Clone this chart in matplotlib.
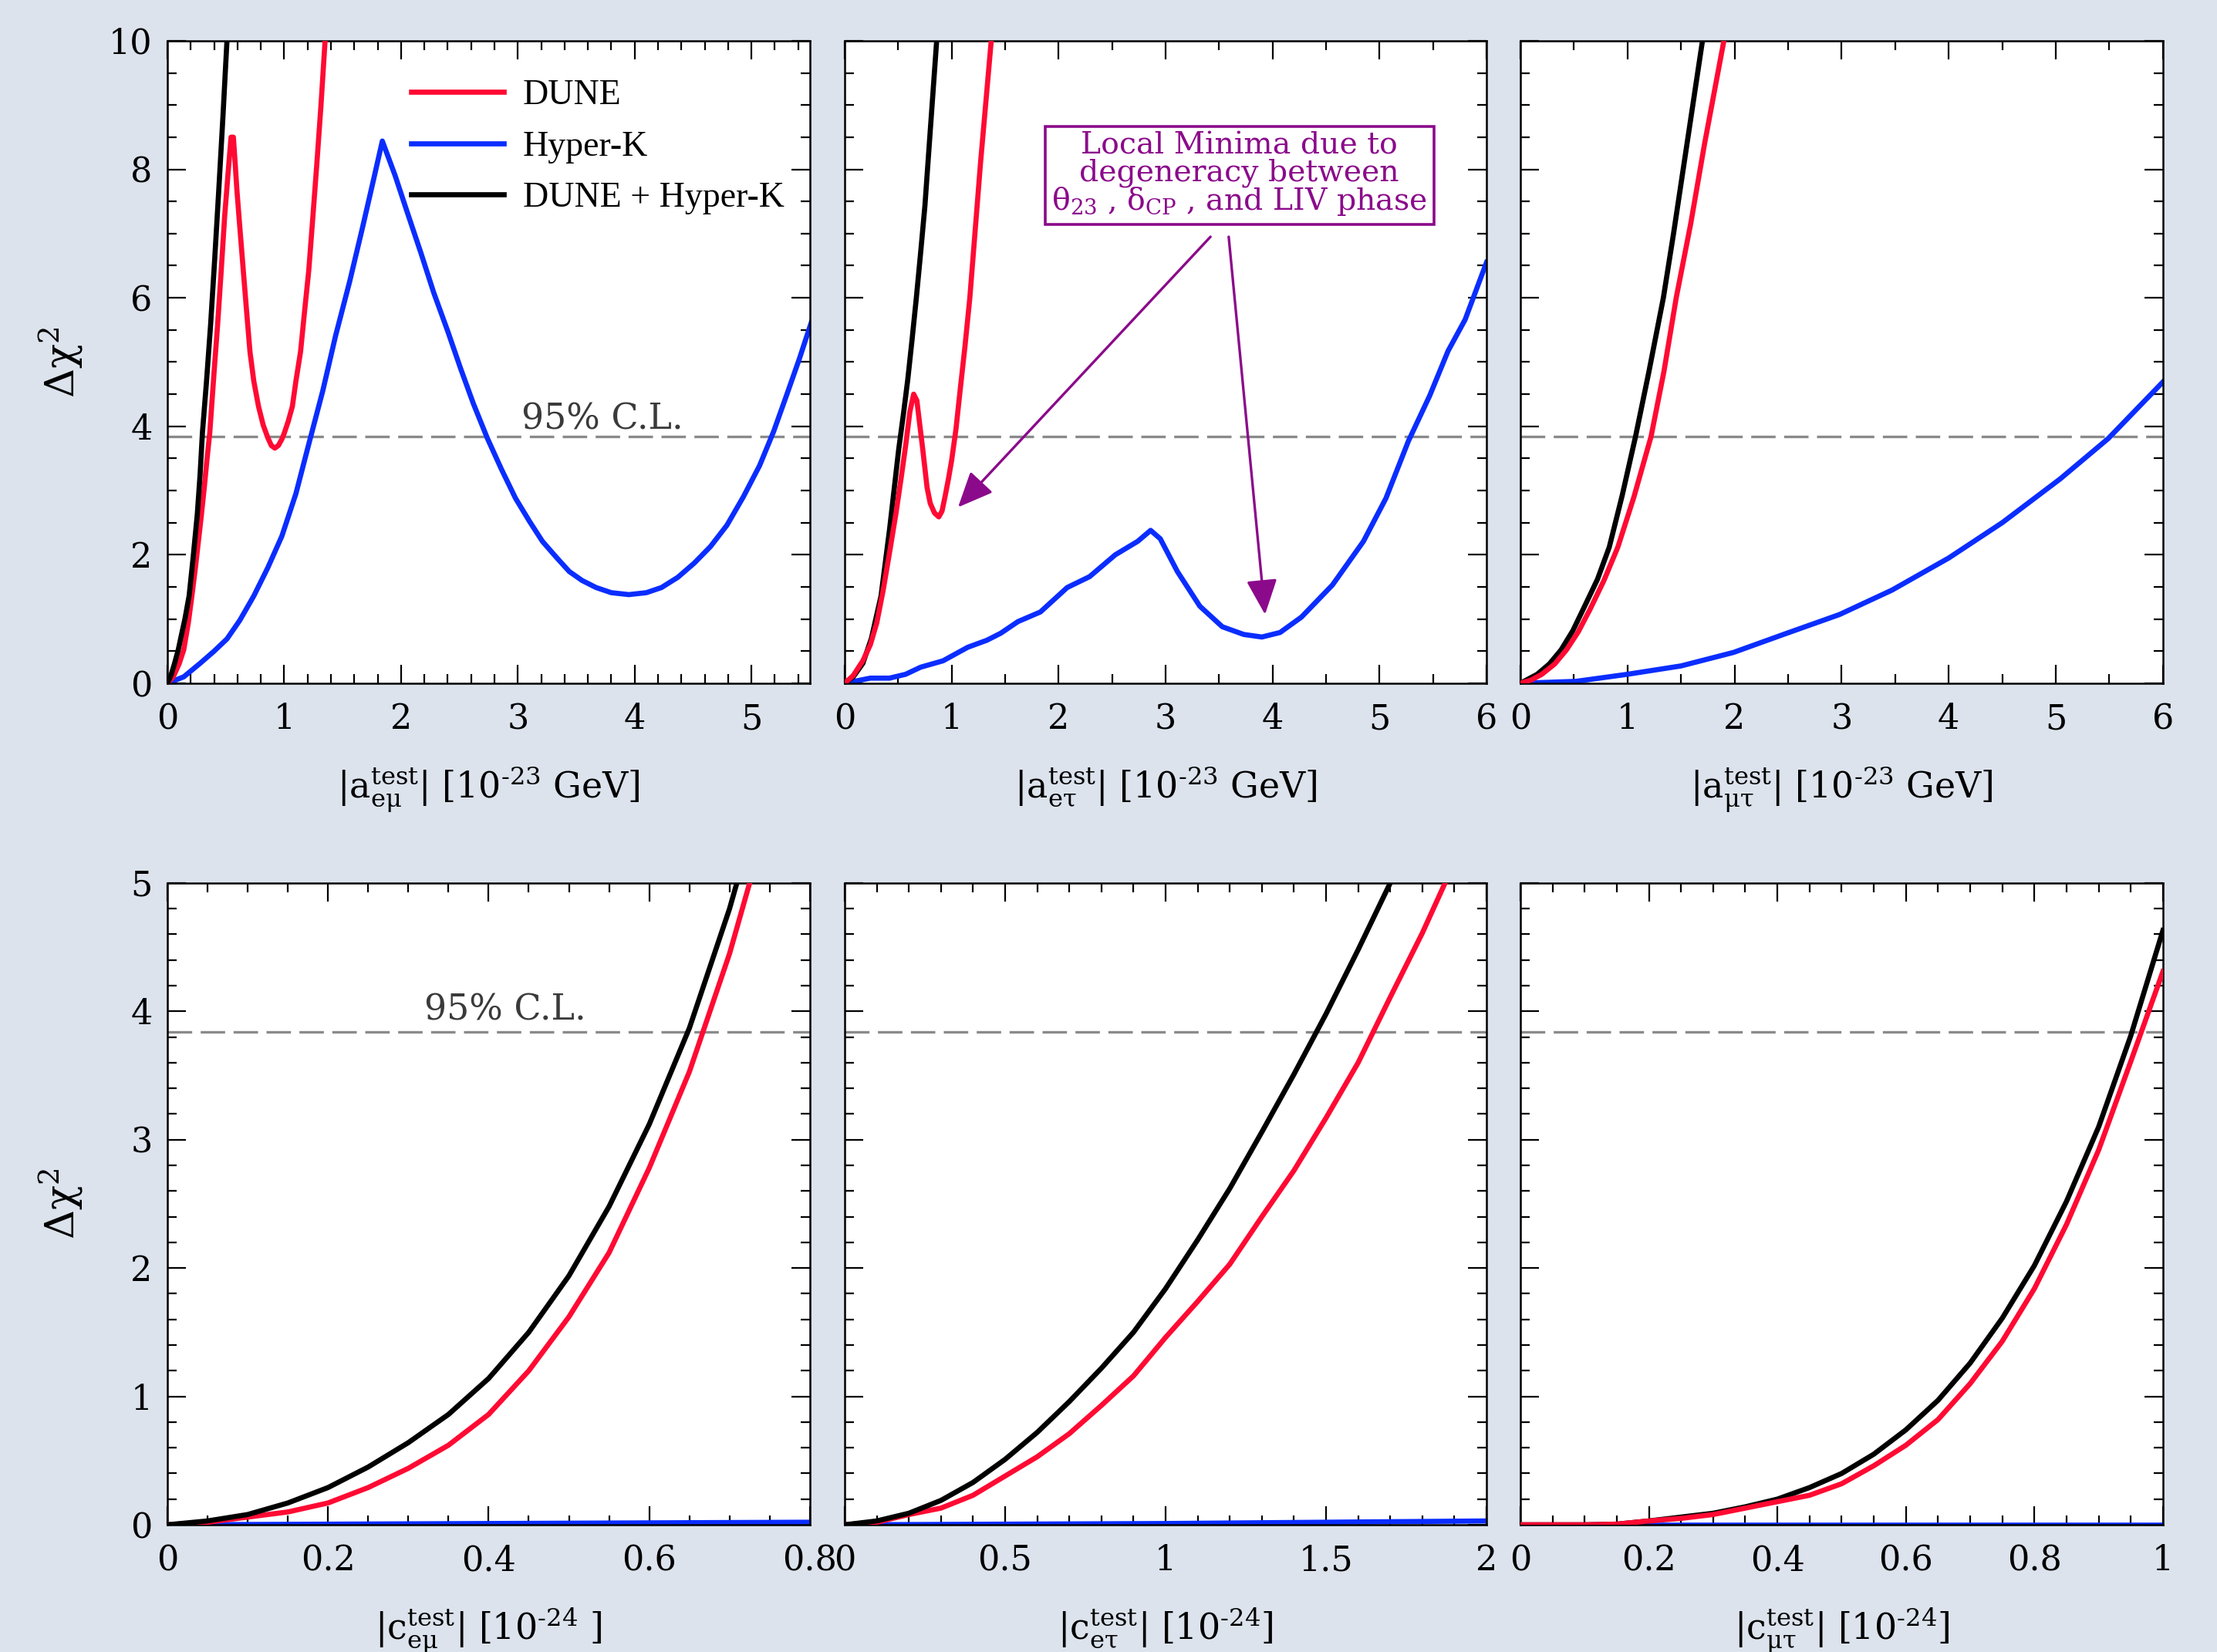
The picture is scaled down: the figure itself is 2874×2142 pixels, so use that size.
import matplotlib
matplotlib.use("Agg")
import matplotlib.pyplot as plt
from matplotlib.ticker import MultipleLocator, FuncFormatter

plt.rcParams['font.family'] = ['DejaVu Serif', 'DejaVu Sans']
plt.rcParams['mathtext.fontset'] = 'custom'
plt.rcParams['mathtext.rm'] = 'DejaVu Serif'
plt.rcParams['mathtext.it'] = 'DejaVu Serif:italic'
plt.rcParams['mathtext.bf'] = 'DejaVu Serif:bold'

# ---------------- data ----------------
# Panel 1: |a_emu|
a_em_dune_x = [0, 0.05, 0.1, 0.14, 0.18, 0.21, 0.24, 0.265, 0.29, 0.316, 0.34, 0.363, 0.4, 0.43, 0.46,
               0.49, 0.52, 0.545, 0.565, 0.58, 0.595, 0.62, 0.65, 0.68, 0.707, 0.74, 0.78, 0.82,
               0.86, 0.89, 0.92, 0.95, 0.98, 1.0, 1.035, 1.07, 1.1, 1.14, 1.175, 1.21, 1.245,
               1.28, 1.315, 1.35, 1.38]
a_em_dune_y = [0, 0.1, 0.3, 0.52, 0.95, 1.36, 1.8, 2.2, 2.6, 3.05, 3.5, 3.9, 4.85, 5.58, 6.4,
               7.26, 7.95, 8.5, 8.5, 8.1, 7.68, 7.1, 6.42, 5.75, 5.16, 4.7, 4.31, 4.02,
               3.82, 3.7, 3.66, 3.7, 3.8, 3.89, 4.08, 4.31, 4.7, 5.16, 5.8, 6.42, 7.25,
               8.1, 9.0, 10.0, 10.7]
a_em_hk_x = [0, 0.14, 0.28, 0.4, 0.51, 0.62, 0.74, 0.86, 0.98, 1.1, 1.21, 1.33, 1.44, 1.56, 1.67,
             1.76, 1.84, 1.95, 2.05, 2.17, 2.28, 2.4, 2.51, 2.62, 2.74, 2.86, 2.98, 3.1, 3.21,
             3.33, 3.44, 3.55, 3.67, 3.8, 3.95, 4.1, 4.23, 4.37, 4.51, 4.65, 4.79, 4.93, 5.07,
             5.19, 5.3, 5.41, 5.52]
a_em_hk_y = [0, 0.1, 0.31, 0.5, 0.69, 0.98, 1.36, 1.8, 2.29, 2.95, 3.72, 4.55, 5.41, 6.25, 7.09,
             7.8, 8.44, 7.9, 7.35, 6.7, 6.08, 5.48, 4.9, 4.35, 3.81, 3.33, 2.88, 2.52, 2.21,
             1.96, 1.74, 1.6, 1.49, 1.41, 1.38, 1.41, 1.49, 1.65, 1.87, 2.13, 2.46, 2.9, 3.39,
             3.92, 4.48, 5.05, 5.66]
a_em_comb_x = [0, 0.03, 0.06, 0.093, 0.12, 0.15, 0.186, 0.22, 0.256, 0.28, 0.30, 0.335, 0.37, 0.405,
               0.44, 0.475, 0.51, 0.53]
a_em_comb_y = [0, 0.12, 0.3, 0.52, 0.75, 1.0, 1.36, 1.95, 2.63, 3.25, 3.9, 4.7, 5.58, 6.6,
               7.68, 8.8, 10.0, 10.6]

# Panel 2: |a_etau|
a_et_dune_x = [0, 0.08, 0.17, 0.24, 0.3, 0.36, 0.42, 0.48, 0.53, 0.57, 0.61, 0.645, 0.675, 0.7, 0.73,
               0.77, 0.8, 0.84, 0.88, 0.91, 0.94, 0.97, 1.0, 1.04, 1.08, 1.125, 1.17, 1.22, 1.27,
               1.32, 1.37, 1.4]
a_et_dune_y = [0, 0.12, 0.35, 0.6, 0.94, 1.45, 2.04, 2.65, 3.22, 3.7, 4.23, 4.5, 4.4, 4.05, 3.64,
               3.05, 2.8, 2.65, 2.59, 2.68, 2.92, 3.18, 3.47, 3.95, 4.57, 5.25, 6.0, 7.05, 8.1,
               9.05, 10.0, 10.6]
a_et_hk_x = [0, 0.24, 0.42, 0.57, 0.71, 0.92, 1.15, 1.33, 1.46, 1.62, 1.83, 2.08, 2.29, 2.53, 2.74,
             2.86, 2.95, 3.11, 3.32, 3.53, 3.73, 3.9, 4.07, 4.27, 4.56, 4.85, 5.06, 5.27, 5.47,
             5.64, 5.8, 6.0]
a_et_hk_y = [0, 0.08, 0.08, 0.14, 0.25, 0.35, 0.56, 0.67, 0.78, 0.96, 1.11, 1.49, 1.66, 2.0, 2.21,
             2.38, 2.25, 1.74, 1.2, 0.88, 0.76, 0.72, 0.79, 1.03, 1.53, 2.21, 2.88, 3.77, 4.48,
             5.17, 5.66, 6.55]
a_et_comb_x = [0, 0.08, 0.17, 0.25, 0.34, 0.42, 0.505, 0.55, 0.59, 0.63, 0.67, 0.71, 0.75, 0.8, 0.86,
               0.9]
a_et_comb_y = [0, 0.1, 0.31, 0.7, 1.36, 2.4, 3.64, 4.2, 4.73, 5.35, 6.0, 6.7, 7.43, 8.6, 10.0,
               10.8]

# Panel 3: |a_mutau|
a_mt_dune_x = [0, 0.1, 0.2, 0.32, 0.43, 0.54, 0.65, 0.78, 0.91, 1.06, 1.22, 1.34, 1.455, 1.59, 1.72,
               1.81, 1.9, 1.95]
a_mt_dune_y = [0, 0.05, 0.14, 0.3, 0.52, 0.8, 1.15, 1.6, 2.12, 2.9, 3.84, 4.85, 6.0, 7.15, 8.4,
               9.2, 10.0, 10.5]
a_mt_hk_x = [0, 0.52, 1.0, 1.5, 1.99, 2.49, 2.98, 3.47, 4.0, 4.5, 5.04, 5.49, 6.0]
a_mt_hk_y = [0, 0.03, 0.14, 0.27, 0.48, 0.78, 1.07, 1.45, 1.95, 2.5, 3.18, 3.81, 4.69]
a_mt_comb_x = [0, 0.157, 0.27, 0.38, 0.49, 0.6, 0.72, 0.83, 0.95, 1.075, 1.2, 1.335, 1.43, 1.52, 1.61,
               1.7, 1.75]
a_mt_comb_y = [0, 0.14, 0.3, 0.52, 0.82, 1.2, 1.62, 2.12, 2.92, 3.84, 4.85, 6.0, 7.0, 8.0, 9.0,
               10.0, 10.6]

# Panel 4: |c_emu|
c_em_x = [0, 0.05, 0.1, 0.15, 0.2, 0.25, 0.3, 0.35, 0.4, 0.45, 0.5, 0.55, 0.6, 0.65, 0.7, 0.75]
c_em_dune_y = [0, 0.02, 0.06, 0.1, 0.17, 0.29, 0.44, 0.62, 0.86, 1.2, 1.62, 2.12, 2.78, 3.53, 4.45, 5.55]
c_em_comb_y = [0, 0.03, 0.08, 0.17, 0.29, 0.45, 0.64, 0.86, 1.14, 1.5, 1.94, 2.48, 3.12, 3.87, 4.8, 5.9]
c_em_hk_x = [0, 0.2, 0.4, 0.6, 0.8]
c_em_hk_y = [0, 0.005, 0.01, 0.015, 0.02]

# Panel 5: |c_etau|
c_et_x = [0, 0.1, 0.2, 0.3, 0.4, 0.5, 0.6, 0.7, 0.8, 0.9, 1.0, 1.1, 1.2, 1.3, 1.4, 1.5, 1.6, 1.7, 1.8, 1.9]
c_et_dune_y = [0, 0.02, 0.08, 0.13, 0.23, 0.38, 0.53, 0.71, 0.93, 1.16, 1.46, 1.74, 2.03, 2.4, 2.76,
               3.17, 3.6, 4.11, 4.61, 5.16]
c_et_comb_y = [0, 0.03, 0.09, 0.19, 0.33, 0.51, 0.72, 0.96, 1.22, 1.5, 1.84, 2.22, 2.62, 3.06, 3.51,
               3.98, 4.48, 5.0, 5.6, 6.2]
c_et_hk_x = [0, 0.5, 1.0, 1.5, 2.0]
c_et_hk_y = [0, 0.005, 0.01, 0.02, 0.03]

# Panel 6: |c_mutau|
c_mt_x = [0, 0.05, 0.1, 0.15, 0.2, 0.25, 0.3, 0.35, 0.4, 0.45, 0.5, 0.55, 0.6, 0.65, 0.7, 0.75, 0.8,
          0.85, 0.9, 0.95, 1.0]
c_mt_dune_y = [0, 0, 0, 0.005, 0.03, 0.05, 0.08, 0.13, 0.18, 0.23, 0.32, 0.46, 0.62, 0.82, 1.1, 1.43,
               1.84, 2.34, 2.92, 3.61, 4.31]
c_mt_comb_y = [0, 0, 0, 0.005, 0.03, 0.06, 0.09, 0.14, 0.2, 0.29, 0.4, 0.55, 0.74, 0.97, 1.26, 1.61,
               2.02, 2.52, 3.1, 3.81, 4.63]
c_mt_hk_x = [0, 0.5, 1.0]
c_mt_hk_y = [0, 0, 0]

cl95 = 3.84

# ---------------- style ----------------
RED = '#ff0a33'
BLUE = '#0a2dff'
BLACK = '#000000'
PURPLE = '#8b0a8b'
BG = '#dce3ed'
LW = 2.4

fig = plt.figure(figsize=(14.37, 10.71), dpi=200, facecolor=BG)

colx = [(0.0755, 0.2898), (0.381, 0.2895), (0.6858, 0.2898)]
rows = [(0.5864, 0.3889), (0.077, 0.3885)]

axes = []
for r, (b, h) in enumerate(rows):
    for c, (l, w) in enumerate(colx):
        ax = fig.add_axes([l, b, w, h])
        ax.set_facecolor('white')
        axes.append(ax)


def style(ax, xmax, xmaj, xmin, ymax, ymaj, ymin, ylabels):
    ax.set_xlim(0, xmax)
    ax.set_ylim(0, ymax)
    ax.xaxis.set_major_locator(MultipleLocator(xmaj))
    ax.xaxis.set_minor_locator(MultipleLocator(xmin))
    ax.yaxis.set_major_locator(MultipleLocator(ymaj))
    ax.yaxis.set_minor_locator(MultipleLocator(ymin))
    fmt = FuncFormatter(lambda v, p: ('%g' % round(v, 6)))
    ax.xaxis.set_major_formatter(fmt)
    ax.yaxis.set_major_formatter(fmt)
    ax.tick_params(which='both', direction='in', top=True, right=True, width=0.8, colors='black')
    ax.tick_params(which='major', length=8.5, labelsize=16)
    ax.tick_params(which='minor', length=4.3)
    ax.tick_params(axis='x', which='major', pad=9)
    ax.tick_params(axis='y', which='major', pad=7)
    if not ylabels:
        ax.tick_params(axis='y', labelleft=False)
    for s in ax.spines.values():
        s.set_linewidth(0.9)
    ax.axhline(cl95, color='#8a8a8a', lw=1.2, ls=(0, (9.5, 3.3)), zorder=1)


ax1, ax2, ax3, ax4, ax5, ax6 = axes
style(ax1, 5.5, 1, 0.2, 10, 2, 0.5, True)
style(ax2, 6, 1, 0.5, 10, 2, 0.5, False)
style(ax3, 6, 1, 0.5, 10, 2, 0.5, False)
style(ax4, 0.8, 0.2, 0.05, 5, 1, 0.2, True)
style(ax5, 2, 0.5, 0.1, 5, 1, 0.2, False)
style(ax6, 1, 0.2, 0.05, 5, 1, 0.2, False)

ax1.plot(a_em_dune_x, a_em_dune_y, color=RED, lw=LW, label='DUNE', zorder=3)
ax1.plot(a_em_hk_x, a_em_hk_y, color=BLUE, lw=LW, label='Hyper-K', zorder=2)
ax1.plot(a_em_comb_x, a_em_comb_y, color=BLACK, lw=LW, label='DUNE + Hyper-K', zorder=4)

ax2.plot(a_et_dune_x, a_et_dune_y, color=RED, lw=LW, zorder=3)
ax2.plot(a_et_hk_x, a_et_hk_y, color=BLUE, lw=LW, zorder=2)
ax2.plot(a_et_comb_x, a_et_comb_y, color=BLACK, lw=LW, zorder=2.5)

ax3.plot(a_mt_dune_x, a_mt_dune_y, color=RED, lw=LW, zorder=3)
ax3.plot(a_mt_hk_x, a_mt_hk_y, color=BLUE, lw=LW, zorder=2)
ax3.plot(a_mt_comb_x, a_mt_comb_y, color=BLACK, lw=LW, zorder=2.5)

ax4.plot(c_em_hk_x, c_em_hk_y, color=BLUE, lw=LW, zorder=2)
ax4.plot(c_em_x, c_em_dune_y, color=RED, lw=LW, zorder=3)
ax4.plot(c_em_x, c_em_comb_y, color=BLACK, lw=LW, zorder=3)

ax5.plot(c_et_hk_x, c_et_hk_y, color=BLUE, lw=LW, zorder=2)
ax5.plot(c_et_x, c_et_dune_y, color=RED, lw=LW, zorder=3)
ax5.plot(c_et_x, c_et_comb_y, color=BLACK, lw=LW, zorder=3)

ax6.plot(c_mt_hk_x, c_mt_hk_y, color=BLUE, lw=LW, zorder=2)
ax6.plot(c_mt_x, c_mt_comb_y, color=BLACK, lw=LW, zorder=3)
ax6.plot(c_mt_x, c_mt_dune_y, color=RED, lw=LW, zorder=3.5)

# legend
leg = ax1.legend(loc='upper left', bbox_to_anchor=(0.38, 0.94), frameon=False,
                 handlelength=2.6, handletextpad=0.55, labelspacing=0.52, borderpad=0,
                 borderaxespad=0, prop={'family': 'Liberation Serif', 'size': 16.5})

# 95% C.L. labels
ax1.text(3.03, 3.95, '95% C.L.', fontsize=16.5, color='#3a3a3a', ha='left', va='baseline')
ax4.text(0.32, 3.93, '95% C.L.', fontsize=16.5, color='#3a3a3a', ha='left', va='baseline')

# annotation box in panel 2
ax2.text(3.69, 7.92, 'Local Minima due to\ndegeneracy between\n'
         r'θ$_{23}$ , δ$_{\mathrm{CP}}$ , and LIV phase',
         color=PURPLE, fontsize=14.2, ha='center', va='center', multialignment='center',
         linespacing=0.92,
         bbox=dict(boxstyle='square,pad=0.22', fc='white', ec=PURPLE, lw=1.3), zorder=6)
for tip in [(1.06, 2.74), (3.93, 1.07)]:
    start = (3.42, 6.95) if tip[0] < 2 else (3.59, 6.95)
    ax2.annotate('', xy=tip, xytext=start,
                 arrowprops=dict(arrowstyle='-|>,head_length=0.5,head_width=0.22', color=PURPLE,
                                 lw=1.2, mutation_scale=28, shrinkA=0, shrinkB=0), zorder=6)

# axis labels
xlabels = [
    r'$|\mathrm{a}^{\mathrm{test}}_{\mathrm{eμ}}|$ [10$^{\mathrm{‐23}}$ GeV]',
    r'$|\mathrm{a}^{\mathrm{test}}_{\mathrm{eτ}}|$ [10$^{\mathrm{‐23}}$ GeV]',
    r'$|\mathrm{a}^{\mathrm{test}}_{\mathrm{μτ}}|$ [10$^{\mathrm{‐23}}$ GeV]',
    r'$|\mathrm{c}^{\mathrm{test}}_{\mathrm{eμ}}|$ [10$^{\mathrm{‐24}}$ ]',
    r'$|\mathrm{c}^{\mathrm{test}}_{\mathrm{eτ}}|$ [10$^{\mathrm{‐24}}$]',
    r'$|\mathrm{c}^{\mathrm{test}}_{\mathrm{μτ}}|$ [10$^{\mathrm{‐24}}$]',
]
for ax, lab in zip(axes, xlabels):
    ax.set_xlabel(lab, fontsize=16.5)
    ax.xaxis.set_label_coords(0.5, -0.127)

for ax in (ax1, ax4):
    ax.set_ylabel('Δχ$^{2}$', fontsize=19)
    ax.yaxis.set_label_coords(-0.128, 0.5)

fig.savefig('out.png', dpi=200, facecolor=BG)
